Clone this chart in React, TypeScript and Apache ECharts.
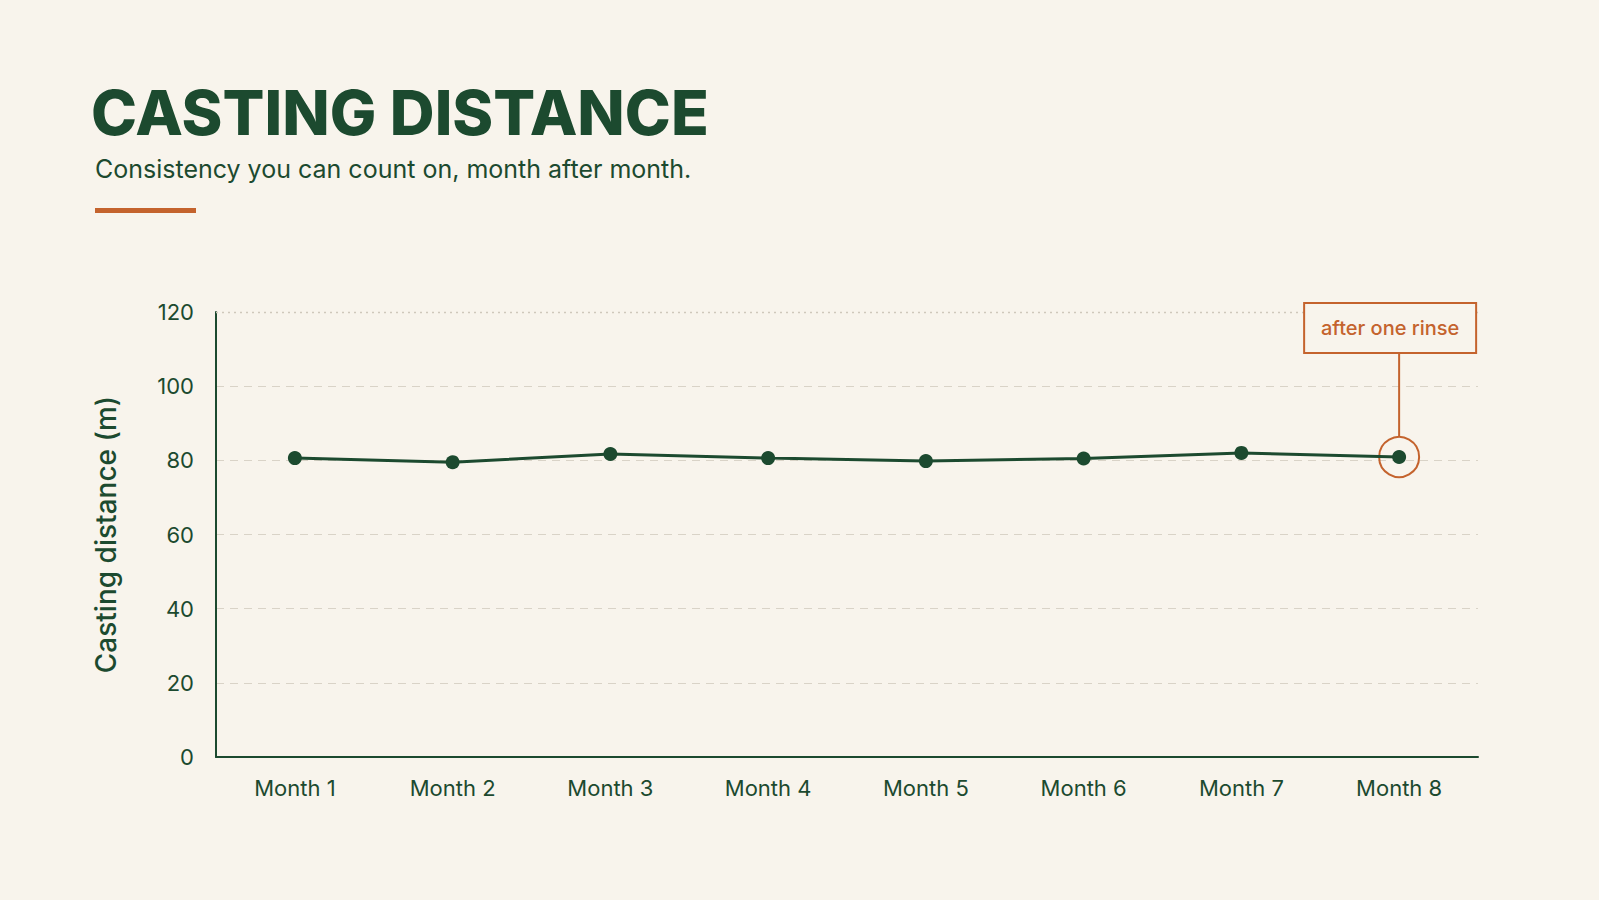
import React, { useEffect, useRef } from 'react';
import * as echarts from 'echarts';

const months = ['Month 1', 'Month 2', 'Month 3', 'Month 4', 'Month 5', 'Month 6', 'Month 7', 'Month 8'];
const distances = [80.6, 79.5, 81.7, 80.6, 79.8, 80.5, 82.0, 80.9];
const yTicks = [0, 20, 40, 60, 80, 100, 120];
const noteIndex = 7;
const noteText = 'after one rinse';

const GREEN = '#1c4a2f';
const ORANGE = '#c4632d';
const BG = '#f8f4ec';
const GRIDLINE = '#d9d3c7';
const FONT = 'Inter, "Noto Sans", sans-serif';

export default function App() {
  const chartRef = useRef<HTMLDivElement>(null);

  useEffect(() => {
    if (!chartRef.current) return;
    const chart = echarts.init(chartRef.current, null, { renderer: 'svg' });

    const option: echarts.EChartsOption = {
      animation: false,
      backgroundColor: BG,
      title: [
        {
          text: 'CASTING DISTANCE',
          left: 86,
          top: 69,
          textStyle: { color: GREEN, fontFamily: FONT, fontSize: 62, fontWeight: 800, lineHeight: 76 },
        },
        {
          text: 'Consistency you can count on, month after month.',
          left: 90,
          top: 149,
          textStyle: { color: GREEN, fontFamily: FONT, fontSize: 25, fontWeight: 400, lineHeight: 30 },
        },
      ],
      grid: { left: 216, right: 121, top: 312, bottom: 143 },
      xAxis: {
        type: 'category',
        data: months,
        boundaryGap: true,
        axisLine: { lineStyle: { color: GREEN, width: 2 } },
        axisTick: { show: false },
        axisLabel: { color: GREEN, fontFamily: FONT, fontSize: 22, margin: 20 },
      },
      yAxis: {
        type: 'value',
        min: yTicks[0],
        max: yTicks[yTicks.length - 1],
        interval: 20,
        name: 'Casting distance (m)',
        nameLocation: 'middle',
        nameGap: 96,
        nameTextStyle: { color: GREEN, fontFamily: FONT, fontSize: 28, fontWeight: 500 },
        axisLine: { show: true, lineStyle: { color: GREEN, width: 2 } },
        axisTick: { show: false },
        axisLabel: { color: GREEN, fontFamily: FONT, fontSize: 22, margin: 22 },
        splitLine: {
          show: true,
          showMaxLine: false,
          lineStyle: { color: GRIDLINE, type: [8, 6], width: 1.2 },
        },
      },
      series: [
        {
          type: 'line',
          data: distances,
          symbol: 'circle',
          symbolSize: 14,
          lineStyle: { color: GREEN, width: 3 },
          itemStyle: { color: GREEN },
          z: 5,
          markLine: {
            silent: true,
            symbol: 'none',
            label: { show: false },
            lineStyle: { color: '#cfc8bb', type: [2, 4], width: 1.3 },
            data: [{ yAxis: yTicks[yTicks.length - 1] }],
          },
          markPoint: {
            silent: true,
            symbol: 'circle',
            symbolSize: 40,
            itemStyle: { color: 'rgba(0,0,0,0)', borderColor: ORANGE, borderWidth: 2 },
            label: { show: false },
            data: [{ coord: [months[noteIndex], distances[noteIndex]] }],
          },
        },
      ],
    };

    chart.setOption(option);

    // annotation box + connector, placed from the axis scales
    const [px, py] = chart.convertToPixel({ seriesIndex: 0 }, [noteIndex, distances[noteIndex]]) as number[];
    const [, topY] = chart.convertToPixel({ seriesIndex: 0 }, [0, yTicks[yTicks.length - 1]]) as number[];
    const boxW = 172;
    const boxH = 50;
    const boxX = px - 95;
    const boxY = topY - 9;
    chart.setOption({
      graphic: [
        {
          type: 'line',
          shape: { x1: px, y1: boxY + boxH, x2: px, y2: py - 20 },
          style: { stroke: ORANGE, lineWidth: 2 },
          z: 10,
        },
        {
          type: 'rect',
          shape: { x: boxX, y: boxY, width: boxW, height: boxH },
          style: { fill: BG, stroke: ORANGE, lineWidth: 2 },
          z: 10,
        },
        {
          type: 'text',
          x: boxX + boxW / 2,
          y: boxY + boxH / 2,
          style: {
            text: noteText,
            fill: ORANGE,
            font: `500 20px ${FONT}`,
            align: 'center',
            verticalAlign: 'middle',
          },
          z: 11,
        },
        {
          type: 'rect',
          shape: { x: 95, y: 208, width: 101, height: 5 },
          style: { fill: ORANGE },
        },
      ],
    });

    const handleResize = () => chart.resize();
    window.addEventListener('resize', handleResize);
    return () => {
      window.removeEventListener('resize', handleResize);
      chart.dispose();
    };
  }, []);

  return (
    <div style={{ position: 'fixed', left: 0, top: 0, width: '100vw', height: '100vh', background: BG }}>
      <div ref={chartRef} style={{ width: '100%', height: '100%' }} />
    </div>
  );
}
